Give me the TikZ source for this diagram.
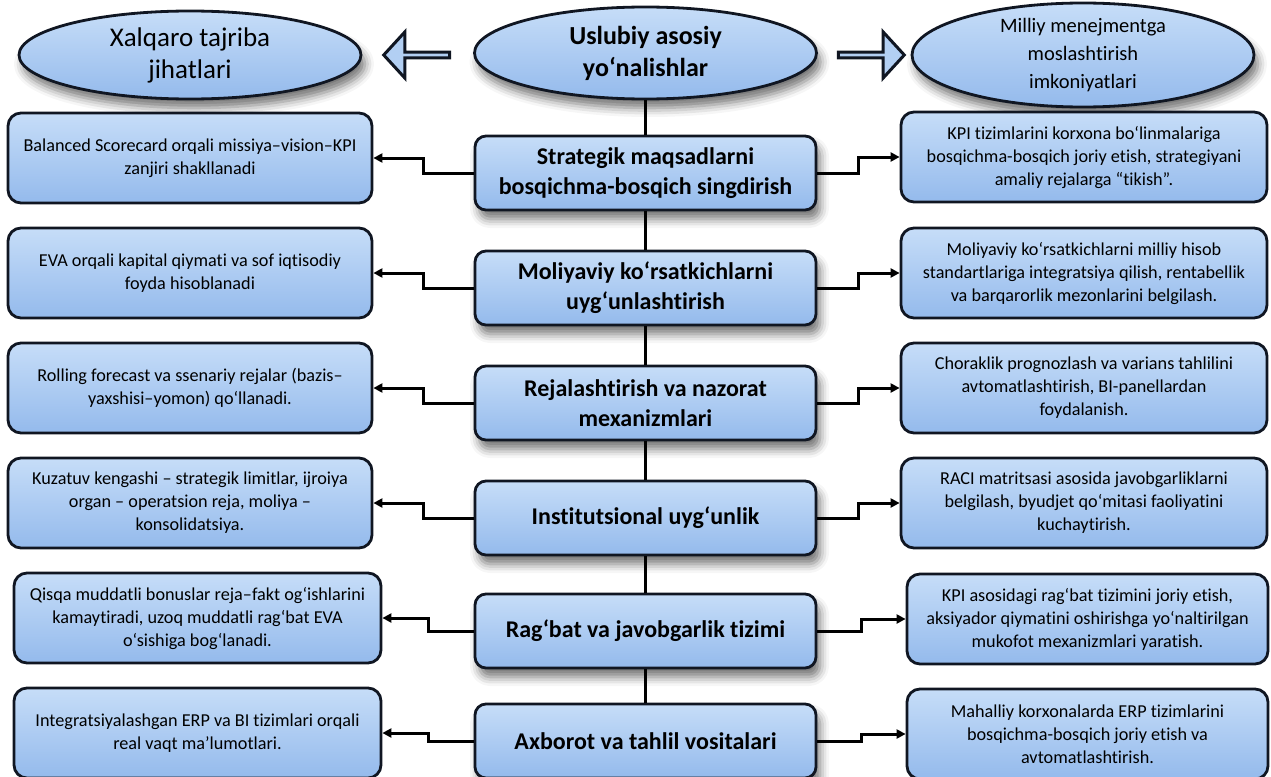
\documentclass[tikz,border=0pt]{standalone}
\usepackage{fontspec}
\setmainfont{Carlito}[Ligatures=NoCommon]
\usetikzlibrary{shapes.geometric,shapes.arrows,shadows.blur,calc,arrows.meta}

\definecolor{boxtop}{RGB}{198,221,248}
\definecolor{boxbot}{RGB}{148,186,236}
\definecolor{boxline}{RGB}{16,22,34}

\begin{document}
\begin{tikzpicture}
  [x=1pt,y=-1pt,
   every node/.style={align=center,text=black,inner sep=0pt},
   softshadow/.style={blur shadow={shadow xshift=4pt,shadow yshift=-9pt,shadow blur radius=9pt,shadow opacity=55}},
   oval/.style={ellipse,draw=boxline,line width=2.8pt,top color=boxtop,bottom color=boxbot,minimum width=342pt,minimum height=88pt,softshadow},
   mainbox/.style={rounded corners=11pt,draw=boxline,line width=2.8pt,top color=boxtop,bottom color=boxbot,minimum width=341pt,minimum height=74pt,font=\bfseries\fontsize{24}{30}\selectfont,softshadow},
   sidebox/.style={rounded corners=13pt,draw=boxline,line width=2.8pt,top color=boxtop,bottom color=boxbot,minimum width=364pt,minimum height=90pt,font=\fontsize{18.2}{23}\selectfont},
   bigarrow/.style={single arrow,draw=boxline,line width=3pt,fill=boxtop!60!boxbot,minimum width=46pt,minimum height=66pt,single arrow head extend=11pt,single arrow tip angle=95},
   conn/.style={line width=3pt,-{Triangle[length=9pt,width=9pt]}},
   spine/.style={line width=2.6pt}]
  \useasboundingbox (0,0) rectangle (1271,776);

  % top row
  \node[oval,font=\fontsize{27}{32}\selectfont] (eL) at (190,55) {Xalqaro tajriba\\jihatlari};
  \node[oval,font=\bfseries\fontsize{26}{32}\selectfont,minimum height=92pt] (e0) at (645.5,53) {Uslubiy asosiy\\yo‘nalishlar};
  \node[oval,font=\fontsize{20.5}{28}\selectfont,minimum height=90pt] (eR) at (1083,55) {Milliy menejmentga\\moslashtirish\\imkoniyatlari};
  \node[bigarrow,shape border rotate=180] (aL) at (418,55) {};
  \node[bigarrow] (aR) at (870,55) {};

  % middle column
  \node[mainbox] (c1) at (645.5,173) {Strategik maqsadlarni\\bosqichma-bosqich singdirish};
  \node[mainbox] (c2) at (645.5,288) {Moliyaviy ko‘rsatkichlarni\\uyg‘unlashtirish};
  \node[mainbox] (c3) at (645.5,403) {Rejalashtirish va nazorat\\mexanizmlari};
  \node[mainbox] (c4) at (645.5,518) {Institutsional uyg‘unlik};
  \node[mainbox] (c5) at (645.5,631) {Rag‘bat va javobgarlik tizimi};
  \node[mainbox] (c6) at (645.5,741) {Axborot va tahlil vositalari};

  % left column
  \node[sidebox] (l1) at (190,158) {Balanced Scorecard orqali missiya–vision–KPI\\zanjiri shakllanadi};
  \node[sidebox] (l2) at (190,273) {EVA orqali kapital qiymati va sof iqtisodiy\\foyda hisoblanadi};
  \node[sidebox] (l3) at (190,388) {Rolling forecast va ssenariy rejalar (bazis–\\yaxshisi–yomon) qo‘llanadi.};
  \node[sidebox] (l4) at (190,503) {Kuzatuv kengashi – strategik limitlar, ijroiya\\organ – operatsion reja, moliya –\\konsolidatsiya.};
  \node[sidebox,minimum width=367pt] (l5) at (197.5,618) {Qisqa muddatli bonuslar reja–fakt og‘ishlarini\\kamaytiradi, uzoq muddatli rag‘bat EVA\\o‘sishiga bog‘lanadi.};
  \node[sidebox,minimum width=367pt] (l6) at (197.5,733) {Integratsiyalashgan ERP va BI tizimlari orqali\\real vaqt ma’lumotlari.};

  % right column
  \node[sidebox,minimum width=366pt] (r1) at (1084,157) {KPI tizimlarini korxona bo‘linmalariga\\bosqichma-bosqich joriy etish, strategiyani\\amaliy rejalarga “tikish”.};
  \node[sidebox,minimum width=366pt] (r2) at (1084,273) {Moliyaviy ko‘rsatkichlarni milliy hisob\\standartlariga integratsiya qilish, rentabellik\\va barqarorlik mezonlarini belgilash.};
  \node[sidebox,minimum width=366pt] (r3) at (1084,388) {Choraklik prognozlash va varians tahlilini\\avtomatlashtirish, BI-panellardan\\foydalanish.};
  \node[sidebox,minimum width=366pt] (r4) at (1084,503) {RACI matritsasi asosida javobgarliklarni\\belgilash, byudjet qo‘mitasi faoliyatini\\kuchaytirish.};
  \node[sidebox,minimum width=361pt] (r5) at (1087.5,619) {KPI asosidagi rag‘bat tizimini joriy etish,\\aksiyador qiymatini oshirishga yo‘naltirilgan\\mukofot mexanizmlari yaratish.};
  \node[sidebox,minimum width=361pt] (r6) at (1087.5,734) {Mahalliy korxonalarda ERP tizimlarini\\bosqichma-bosqich joriy etish va\\avtomatlashtirish.};

  \foreach \a/\b in {e0/c1,c1/c2,c2/c3,c3/c4,c4/c5,c5/c6}
    \draw[spine] (\a.south) -- (\b.north);

  \foreach \c/\s in {c1/l1,c2/l2,c3/l3,c4/l4,c5/l5,c6/l6}
    \draw[conn] (\c.west) -| ($(\c.west)!.5!(\s.east)$) |- (\s.east);
  \foreach \c/\s in {c1/r1,c2/r2,c3/r3,c4/r4,c5/r5,c6/r6}
    \draw[conn] (\c.east) -| ($(\c.east)!.5!(\s.west)$) |- (\s.west);
\end{tikzpicture}
\end{document}
